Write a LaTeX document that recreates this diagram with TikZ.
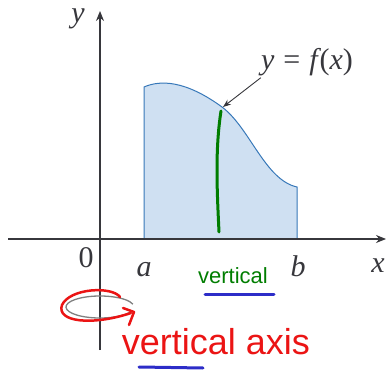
\documentclass[tikz,border=0pt]{standalone}
\usepackage{amsmath,amssymb}
\usepackage{fontspec}
\usepackage{xcolor}
\usepackage{tikz}
\usetikzlibrary{arrows.meta,positioning}
\newfontfamily\handfont{Liberation Sans}
\newfontfamily\bookfont{Liberation Serif}
\newcommand{\vr}[1]{{\itshape #1}}
\definecolor{axisgray}{RGB}{55,55,60}
\definecolor{regionfill}{RGB}{207,224,242}
\definecolor{regionline}{RGB}{55,120,185}
\definecolor{penblue}{RGB}{45,45,200}
\definecolor{pengreen}{RGB}{0,125,0}
\definecolor{penred}{RGB}{235,20,20}

\begin{document}
\begin{tikzpicture}[x=1pt, y=-1pt,
  axis/.style={axisgray, line width=1.3pt, -{Stealth[length=10pt, width=8pt]}},
  lbl/.style={font=\bookfont\fontsize{30}{34}\selectfont, text=axisgray, inner sep=0pt, anchor=base},
  pen/.style={line width=3pt, line cap=round, line join=round}
]
\useasboundingbox (0,0) rectangle (388,374);
% region under the curve
\draw[regionline, fill=regionfill, line width=1pt]
  (144,239) -- (144,87) .. controls (160,80) and (185,80) .. (222,107)
  .. controls (250,128) and (265,180) .. (297,187) -- (297,239) -- cycle;
% axes
\draw[axis] (8,239) -- (386,239);
\draw[axis] (100,350) -- (100,11);
\node[lbl] (ylab) at (78,23) {\vr{y}};
\node[lbl] (xlab) at (378,272) {\vr{x}};
\node[lbl] (zero) at (86,267) {0};
\node[lbl] (alab) at (144,276) {\vr{a}};
\node[lbl] (blab) at (298,276) {\vr{b}};
\node[lbl] (fx) at (307,70) {\vr{y}\kern9pt=\kern9pt\vr{f}\kern2pt(\vr{x})};
\coordinate (onf) at (223,107);
\draw[axisgray, line width=0.9pt, -{Stealth[length=8pt, width=6pt]}] (fx.south west) ++(0,1) -- (onf);
% rotation sign
\draw[gray, line width=1.3pt] (100,307) ++(20:34 and 11) arc[start angle=20, end angle=345, x radius=34, y radius=11];
% pen notes
\draw[pen, pengreen] (221,111) .. controls (215,150) and (217,190) .. (219,232);
\node[font=\handfont\fontsize{22}{26}\selectfont, text=pengreen, inner sep=0pt] (vert) at (233,276) {vertical};
\draw[pen, penblue] (205,294) -- (274,294);
\draw[pen, penred, line width=2.5pt]
  (120,297) .. controls (112,286) and (70,288) .. (62,305)
  .. controls (56,322) and (92,326) .. (131,313);
\draw[pen, penred, line width=2.5pt] (123,308) -- (134,312) -- (129,325);
\node[font=\handfont\fontsize{36}{40}\selectfont, text=penred, inner sep=0pt] (vaxis) at (216,342) {vertical axis};
\draw[pen, penblue] (139,367) -- (203,368);
\end{tikzpicture}
\end{document}
